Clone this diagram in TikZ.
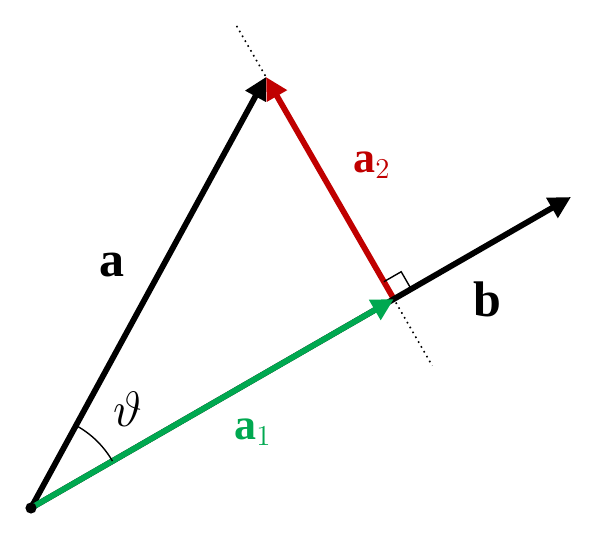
\documentclass[tikz,border=0pt]{standalone}
\usepackage{fontspec}
\setmainfont{Liberation Serif}
\usepackage{amsmath}
\usepackage{xcolor}
\usepackage{tikz}
\usetikzlibrary{positioning,calc,arrows.meta,angles}

\definecolor{projgreen}{RGB}{0,168,80}
\definecolor{projred}{RGB}{192,0,0}

\begin{document}
\begin{tikzpicture}[
    x=0.5pt, y=-0.5pt,
    vec/.style={-{Triangle[length=11pt, width=11pt]}, line width=2.9pt},
    helper/.style={dotted, line width=0.8pt},
    biglbl/.style={font=\fontsize{25}{29}\selectfont},
    lbl/.style={font=\fontsize{22}{26}\selectfont}
]
    \useasboundingbox (0,0) rectangle (600,540);

    \coordinate (O) at (31,508);
    \coordinate (A) at (266,77);
    \coordinate (B) at (571,197);
    \coordinate (P) at ($(O)!(A)!(B)$);

    % dotted line through a and its projection
    \draw[helper] ($(A)!-0.23!(P)$) -- ($(P)!-0.3!(A)$);

    \draw[vec] (O) -- (A);
    \draw[vec, projred] (P) -- (A);
    \draw[vec] (O) -- (B);
    \draw[vec, projgreen] (O) -- (P);

    % right angle mark
    \coordinate (q1) at ($(P)!10pt!(B)$);
    \coordinate (q2) at ($(P)!10pt!(A)$);
    \draw[line width=0.7pt] (q1) -- ($(q1)+(q2)-(P)$) -- (q2);

    \pic[draw, line width=0.7pt, angle radius=47pt] {angle = P--O--A};
    \fill (O) circle[radius=2.8pt];

    \node[biglbl] (la) at (112,265) {$\mathbf{a}$};
    \node[biglbl] (lb) at (487,299) {$\mathbf{b}$};
    \node[lbl, text=projred] (la2) at (372,165) {$\mathbf{a}_2$};
    \node[lbl, text=projgreen] (la1) at (253,432) {$\mathbf{a}_1$};
    \node[font=\fontsize{26}{30}\selectfont] (th) at (128,409) {$\vartheta$};
\end{tikzpicture}
\end{document}
